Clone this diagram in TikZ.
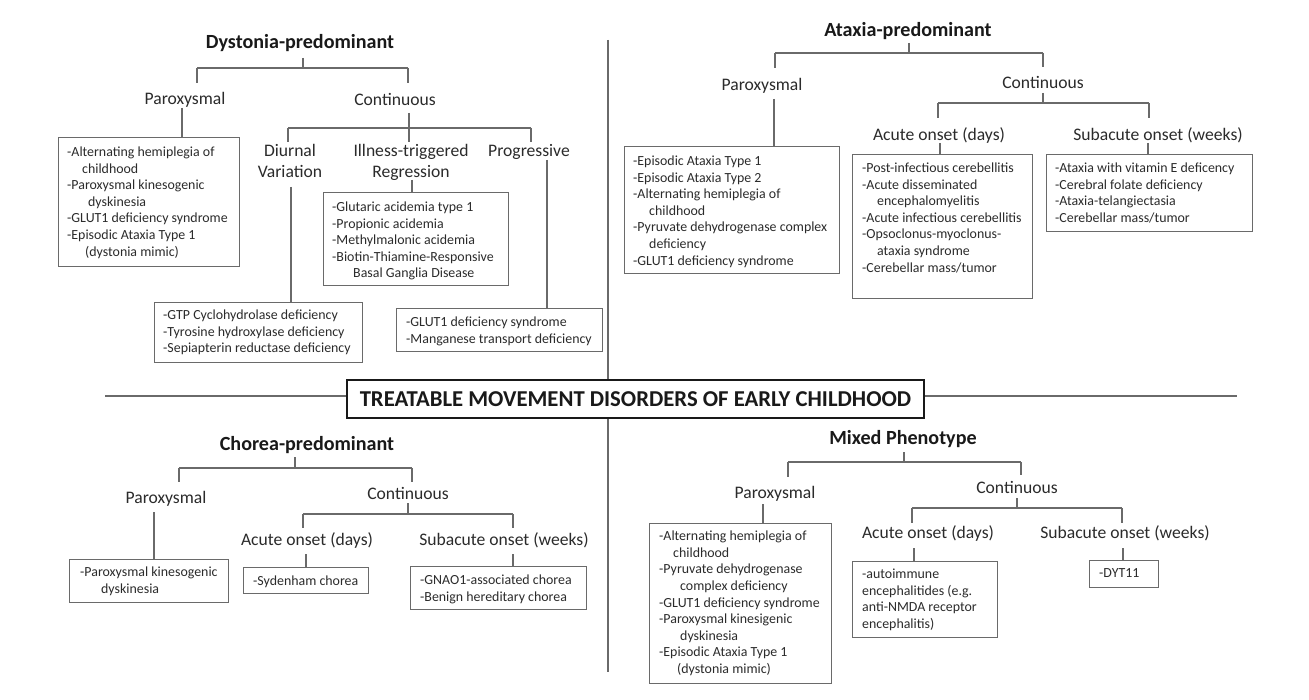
\documentclass[tikz,border=0pt]{standalone}
\usepackage{fontspec}
\setmainfont{Carlito}
\definecolor{txtc}{HTML}{2B2B2B}
\definecolor{linec}{HTML}{6A6A6A}
\tikzset{
  conn/.style={draw=linec, line width=1.3pt},
  listbox/.style={draw=linec, line width=1.3pt, inner sep=0pt, fill=none},
  listtext/.style={font=\fontsize{13.9}{16.6}\selectfont, align=left, inner sep=0pt, text=txtc},
  lab/.style={font=\fontsize{17.6}{21}\selectfont, inner sep=0pt, text=txtc, anchor=base},
  lab2/.style={font=\fontsize{17.6}{21}\selectfont, inner sep=0pt, text=txtc, align=center, anchor=north, yshift=14.7pt},
  ttl/.style={font=\bfseries\fontsize{20.1}{24}\selectfont, inner sep=0pt, text=black!90, anchor=base},
  maintitle/.style={draw=black!90, line width=2.2pt, font=\bfseries\fontsize{22.7}{27}\selectfont, text=black!90, minimum width=577pt, minimum height=38pt, inner sep=0pt}
}
% box: name, x1, y1, x2, y2, textx, first line centre, content
\newcommand{\lbox}[8]{%
  \node[listbox, anchor=north west, minimum width={#4-#2}, minimum height={#5-#3}] (#1) at (#2,#3) {};
  \node[listtext, anchor=north west, yshift=11.62pt] (#1t) at (#6,{#7+4.4}) {\strut #8};}
% bracket: prefix, tickx, ticktop, bary, leftx, rightx, leftbottom, rightbottom
\newcommand{\brk}[8]{%
  \coordinate (#1t) at (#2,#3); \coordinate (#1m) at (#2,#4);
  \coordinate (#1l) at (#5,#4); \coordinate (#1r) at (#6,#4);
  \coordinate (#1lb) at (#5,#7); \coordinate (#1rb) at (#6,#8);
  \draw[conn] (#1t) -- (#1m);
  \draw[conn] (#1l) -- (#1r);
  \draw[conn] (#1l) -- (#1lb);
  \draw[conn] (#1r) -- (#1rb);}
\begin{document}
\begin{tikzpicture}[x=1pt,y=-1pt]
\fill[white] (0,0) rectangle (1309,700);
\useasboundingbox (0,0) rectangle (1309,700);

% ---------- centre ----------
\node[maintitle] (main) at (635.5,399) {TREATABLE MOVEMENT DISORDERS OF EARLY CHILDHOOD};
\coordinate (hl) at (105,396); \coordinate (hr) at (1237,396);
\coordinate (vt) at (608,40); \coordinate (vb) at (608,672);
\draw[conn] (hl) -- (hl -| main.west);
\draw[conn] (hr -| main.east) -- (hr);
\draw[conn] (vt) -- (vt |- main.north);
\draw[conn] (vb |- main.south) -- (vb);

% ---------- Dystonia ----------
\node[ttl] (dT) at (300,48.5) {Dystonia-predominant};
\node[lab] (dP) at (185,104.7) {Paroxysmal};
\node[lab] (dC) at (395,105.7) {Continuous};
\node[lab2] (dD) at (290,156.7) {\strut Diurnal\\Variation};
\node[lab2] (dI) at (411,156.7) {\strut Illness-triggered\\Regression};
\node[lab] (dG) at (529,156.7) {Progressive};
\brk{db}{303}{58}{68}{197}{408}{83}{83}
\lbox{dpb}{58}{137}{239}{266}{67}{152}{-Alternating hemiplegia of\\\hspace*{15pt}childhood\\-Paroxysmal kinesogenic\\\hspace*{21pt}dyskinesia\\-GLUT1 deficiency syndrome\\-Episodic Ataxia Type 1\\\hspace*{18pt}(dystonia mimic)}
\coordinate (dpc) at (182,108);
\draw[conn] (dpc) -- (dpc |- dpb.north);
\brk{dc}{409}{113}{128}{288}{531}{142}{142}
\draw[conn] (dcm) -- (409,142);
\lbox{dib}{323}{192}{508}{285}{332}{207}{-Glutaric acidemia type 1\\-Propionic acidemia\\-Methylmalonic acidemia\\-Biotin-Thiamine-Responsive\\\hspace*{21pt}Basal Ganglia Disease}
\coordinate (dic) at (412,180);
\draw[conn] (dic) -- (dic |- dib.north);
\lbox{ddb}{154}{302}{362}{362}{163}{315}{-GTP Cyclohydrolase deficiency\\-Tyrosine hydroxylase deficiency\\-Sepiapterin reductase deficiency}
\coordinate (ddc) at (291,187);
\draw[conn] (ddc) -- (ddc |- ddb.north);
\lbox{dgb}{396}{308}{602}{351}{406}{322}{-GLUT1 deficiency syndrome\\-Manganese transport deficiency}
\coordinate (dgc) at (547,160);
\draw[conn] (dgc) -- (dgc |- dgb.north);

% ---------- Ataxia ----------
\node[ttl] (aT) at (908,36.5) {Ataxia-predominant};
\node[lab] (aP) at (762,90.7) {Paroxysmal};
\node[lab] (aC) at (1043,88.7) {Continuous};
\node[lab] (aA) at (939,140.7) {Acute onset (days)};
\node[lab] (aS) at (1158,140.7) {Subacute onset (weeks)};
\brk{ab}{909}{43}{53}{775}{1043}{68}{67}
\lbox{apb}{624}{146}{839}{273}{633}{161}{-Episodic Ataxia Type 1\\-Episodic Ataxia Type 2\\-Alternating hemiplegia of\\\hspace*{16pt}childhood\\-Pyruvate dehydrogenase complex\\\hspace*{16pt}deficiency\\-GLUT1 deficiency syndrome}
\coordinate (apc) at (774,99);
\draw[conn] (apc) -- (apc |- apb.north);
\brk{ac}{1043}{93}{103}{938}{1149}{118}{118}
\lbox{aab}{852}{154}{1032}{298}{862}{168}{-Post-infectious cerebellitis\\-Acute disseminated\\\hspace*{15pt}encephalomyelitis\\-Acute infectious cerebellitis\\-Opsoclonus-myoclonus-\\\hspace*{15pt}ataxia syndrome\\-Cerebellar mass/tumor}
\coordinate (aac) at (940,143);
\draw[conn] (aac) -- (aac |- aab.north);
\lbox{asb}{1046}{154}{1252}{231}{1055}{168}{-Ataxia with vitamin E deficency\\-Cerebral folate deficiency\\-Ataxia-telangiectasia\\-Cerebellar mass/tumor}
\coordinate (asc) at (1148,143);
\draw[conn] (asc) -- (asc |- asb.north);

% ---------- Chorea ----------
\node[ttl] (cT) at (307,450.5) {Chorea-predominant};
\node[lab] (cP) at (166,503.7) {Paroxysmal};
\node[lab] (cC) at (408,499.7) {Continuous};
\node[lab] (cA) at (307,545.7) {Acute onset (days)};
\node[lab] (cS) at (504,545.7) {Subacute onset (weeks)};
\brk{cb}{295}{457}{468}{179}{412}{482}{482}
\lbox{cpb}{69}{559}{228}{602}{80}{572}{-Paroxysmal kinesogenic\\\hspace*{21pt}dyskinesia}
\coordinate (cpc) at (154,512);
\draw[conn] (cpc) -- (cpc |- cpb.north);
\brk{cc}{408}{503}{514}{303}{513}{528}{528}
\lbox{cab}{243}{567}{368}{593}{253}{580.5}{-Sydenham chorea}
\coordinate (cac) at (306,554);
\draw[conn] (cac) -- (cac |- cab.north);
\lbox{csb}{410}{566}{586}{609}{420}{580}{-GNAO1-associated chorea\\-Benign hereditary chorea}
\coordinate (csc) at (513,554);
\draw[conn] (csc) -- (csc |- csb.north);

% ---------- Mixed ----------
\node[ttl] (mT) at (903,444.5) {Mixed Phenotype};
\node[lab] (mP) at (775,498.7) {Paroxysmal};
\node[lab] (mC) at (1017,493.7) {Continuous};
\node[lab] (mA) at (928,538.7) {Acute onset (days)};
\node[lab] (mS) at (1125,538.7) {Subacute onset (weeks)};
\brk{mb}{904}{452}{462}{788}{1021}{477}{475}
\lbox{mpb}{649}{523}{831}{683}{659}{536}{-Alternating hemiplegia of\\\hspace*{14pt}childhood\\-Pyruvate dehydrogenase\\\hspace*{21pt}complex deficiency\\-GLUT1 deficiency syndrome\\-Paroxysmal kinesigenic\\\hspace*{21pt}dyskinesia\\-Episodic Ataxia Type 1\\\hspace*{18pt}(dystonia mimic)}
\coordinate (mpc) at (763,504);
\draw[conn] (mpc) -- (mpc |- mpb.north);
\brk{mc}{1017}{498}{508}{912}{1122}{523}{523}
\lbox{mab}{852}{561}{997}{637}{862}{574}{-autoimmune\\encephalitides (e.g.\\anti-NMDA receptor\\encephalitis)}
\coordinate (mac) at (914,548);
\draw[conn] (mac) -- (mac |- mab.north);
\lbox{msb}{1089}{560}{1158}{587}{1099}{573}{-DYT11}
\coordinate (msc) at (1123,548);
\draw[conn] (msc) -- (msc |- msb.north);
\end{tikzpicture}
\end{document}
